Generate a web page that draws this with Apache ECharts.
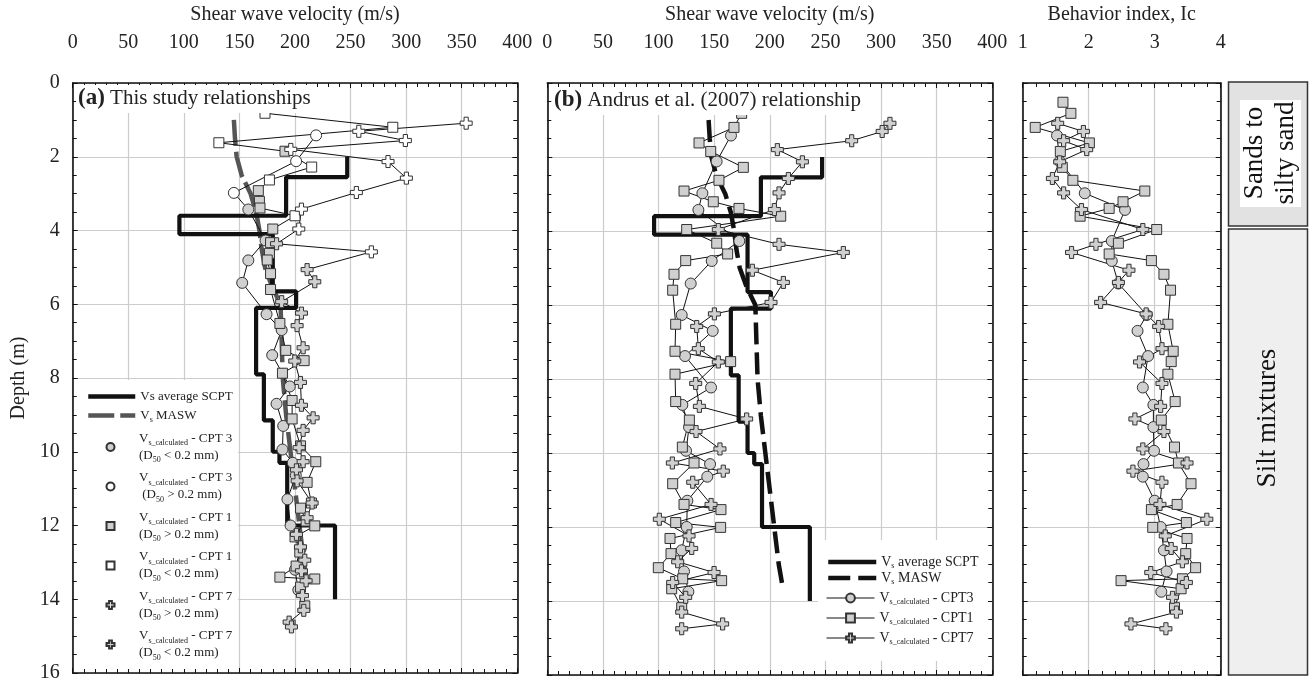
<!DOCTYPE html>
<html>
<head>
<meta charset="utf-8">
<script src="https://cdn.jsdelivr.net/npm/echarts@6/dist/echarts.min.js"></script>
<style>
  html, body { margin: 0; padding: 0; background: #fff; }
  #chart { width: 1309px; height: 683px; }
</style>
</head>
<body>
<div id="chart"></div>
<script>
// ---------------- DATA ----------------
const vsTickLabels = [0, 50, 100, 150, 200, 250, 300, 350, 400];
const icTickLabels = [1, 2, 3, 4];
const depthTickLabels = [0, 2, 4, 6, 8, 10, 12, 14, 16];

// SCPT average Vs layers
const scptTop    = [2.0, 2.55, 3.6, 4.1, 5.65, 6.1, 7.9, 9.15, 10.0, 10.3, 12.0];
const scptBottom = [2.55, 3.6, 4.1, 5.65, 6.1, 7.9, 9.15, 10.0, 10.3, 12.0, 14.0];
const scptVs     = [247, 192, 96, 180, 201, 165, 172, 180, 186, 193, 236];

// MASW profile
const maswDepth = [1.0, 1.5, 2.0, 2.5, 3.0, 3.5, 4.0, 4.5, 5.0, 5.5, 6.0, 7.0, 8.0, 9.0, 10.0, 11.0, 12.0, 13.0, 13.7];
const maswVs    = [145, 146, 147.5, 152, 160, 165, 168, 170, 173, 179, 187, 188, 189, 192, 196, 200, 204, 208, 212];

// CPT 3
const cpt3Depth  = [1.42, 2.12, 2.98, 3.43, 4.27, 4.81, 5.42, 6.27, 6.7, 7.38, 8.23, 8.7, 9.3, 9.94, 10.3, 10.64, 11.29, 12.0, 12.63, 13.2, 13.75];
const cpt3VsThis = [219, 201, 145, 158, 173.5, 158, 152.5, 174.4, 188, 179.5, 195.3, 183.4, 189.4, 188.7, 198, 200.7, 193.2, 196, 205, 200, 203];
const cpt3VsAndrus = [165.1, 152.2, 139.4, 135.8, 172.6, 147.8, 128.9, 120.8, 148.7, 123.8, 147.2, 121.4, 127.4, 124.7, 146.3, 143.8, 125.9, 125.3, 120.8, 122.9, 126.8];
const cpt3Ic     = [1.52, 1.56, 1.94, 2.55, 2.35, 2.35, 2.45, 2.88, 2.74, 2.9, 2.82, 2.98, 2.98, 2.99, 2.83, 2.82, 3.0, 3.09, 3.14, 3.18, 3.1];
const cpt3Coarse = [1, 1, 1, 0, 0, 0, 0, 0, 0, 0, 0, 0, 0, 0, 0, 0, 0, 0, 0, 0, 0]; // 1: D50 > 0.2 mm

// CPT 1
const cpt1Depth  = [0.52, 0.82, 1.2, 1.62, 1.85, 2.28, 2.63, 2.92, 3.21, 3.39, 3.6, 3.96, 4.33, 4.62, 4.8, 5.17, 5.6, 6.52, 7.25, 7.53, 7.87, 8.61, 9.11, 9.84, 10.27, 10.83, 11.39, 11.53, 11.88, 12.01, 12.31, 12.72, 13.1, 13.4, 13.45, 13.67, 14.18];
const cpt1VsThis = [165, 173, 288, 131.5, 191, 215, 177, 167, 168, 168.5, 200, 180, 178, 177, 175, 178, 178, 186.4, 191.7, 208.2, 188.7, 197.4, 197.4, 205, 218.7, 210.9, 214.8, 205, 210, 217.8, 200, 204.3, 201, 186.4, 217.8, 205, 208.8];
const cpt1VsAndrus = [170, 174.7, 167.8, 136.4, 146.9, 176.2, 154.3, 122.9, 149.2, 172.3, 209.8, 125.3, 152.3, 162.1, 124.4, 113.9, 112.7, 115.4, 114.8, 164.8, 114.8, 115.4, 127.7, 121.4, 131.9, 112.7, 122.9, 156.1, 115.4, 155.8, 110.3, 111.2, 99.8, 121.7, 156.7, 111.8, 120.8];
const cpt1Ic     = [1.61, 1.73, 1.19, 2.01, 1.57, 1.6, 1.76, 2.85, 2.52, 2.31, 1.87, 3.03, 2.45, 2.31, 2.95, 3.14, 3.24, 3.2, 3.28, 3.25, 3.2, 3.31, 3.1, 3.3, 3.36, 3.55, 3.34, 2.95, 3.48, 2.97, 3.49, 3.47, 3.62, 3.42, 2.49, 3.4, 3.3];
const cpt1Coarse = [0, 0, 0, 0, 1, 0, 0, 1, 1, 1, 0, 1, 1, 1, 1, 1, 1, 1, 1, 1, 1, 1, 1, 1, 1, 1, 1, 1, 1, 1, 1, 1, 1, 1, 1, 1, 1];

// CPT 7
const cpt7Depth  = [1.09, 1.31, 1.56, 1.8, 2.13, 2.58, 2.97, 3.42, 3.96, 4.36, 4.58, 5.06, 5.39, 5.93, 6.24, 6.58, 7.18, 7.54, 8.12, 8.74, 9.08, 9.42, 9.89, 10.27, 10.49, 10.79, 11.39, 11.79, 12.24, 12.58, 12.94, 13.23, 13.5, 13.9, 14.3, 14.62, 14.75];
const cpt7VsThis = [354, 257.4, 299.3, 196.2, 283.7, 300.2, 255.2, 205.8, 203.4, 183.4, 268.7, 210.9, 217.8, 188, 205.8, 201.9, 207.3, 199.8, 204.9, 205.8, 216.3, 207.3, 203.7, 207.3, 201.3, 201.9, 215.4, 210.9, 201.3, 204.9, 208.8, 205.8, 210, 206.7, 207.9, 194.7, 196.8];
const cpt7VsAndrus = [308, 301, 273.6, 206.8, 229.3, 216.7, 208.3, 204.1, 153.7, 208.3, 266.1, 184.3, 212.2, 201.1, 150.2, 134.3, 135.8, 153.7, 133.4, 136.7, 179.2, 133.7, 155.2, 112.4, 158.2, 130.7, 147.2, 100.7, 127.4, 129.8, 117.2, 149.9, 112.7, 124.4, 120.8, 157.6, 120.8];
const cpt7Ic     = [1.53, 1.92, 1.62, 1.97, 1.56, 1.45, 1.62, 1.89, 2.82, 2.11, 1.74, 2.61, 2.45, 2.18, 2.87, 3.06, 3.11, 2.77, 3.11, 3.09, 2.7, 3.14, 2.82, 3.49, 2.67, 3.11, 3.08, 3.79, 3.16, 3.25, 3.42, 2.94, 3.48, 3.27, 3.33, 2.64, 3.17];
const cpt7Coarse = [1, 1, 1, 1, 1, 1, 1, 1, 1, 0, 1, 0, 0, 0, 0, 0, 0, 0, 0, 0, 0, 0, 0, 0, 0, 0, 0, 0, 0, 0, 0, 0, 0, 0, 0, 0, 0];

// ---------------- HELPERS ----------------
const FONT = '"Liberation Serif", "Times New Roman", serif';
const GRAY = '#d0d0d0';
const EDGE = '#333333';
const PLUS = 'path://M6.5,0H13.5V6.5H20V13.5H13.5V20H6.5V13.5H0V6.5H6.5Z';
const SQUARE = 'path://M0,0H10V10H0Z';

function pairs(xs, ys) { return ys.map((y, i) => [xs[i], y]); }
function subset(xs, ys, flags, want) {
  const out = [];
  ys.forEach((y, i) => { if (flags[i] === want) out.push([xs[i], y]); });
  return out;
}
const scptData = [];
scptVs.forEach((v, i) => { scptData.push([v, scptTop[i]]); scptData.push([v, scptBottom[i]]); });
const maswData = pairs(maswVs, maswDepth);

// grid geometry
const grids = [
  { left: 72.7, top: 82, width: 444.6, height: 593 },
  { left: 547.3, top: 82, width: 445, height: 593 },
  { left: 1022.7, top: 82, width: 198, height: 593 }
];

const axisLineStyle = { color: '#111', width: 1.6 };
const tickStyle = { color: '#111', width: 1 };

function topX(gi, min, max, interval, name) {
  return {
    type: 'value', gridIndex: gi, position: 'top', min, max, interval,
    name, nameLocation: 'middle', nameGap: 58,
    nameTextStyle: { fontFamily: FONT, fontSize: 20, color: '#222' },
    axisLine: { show: true, onZero: false, lineStyle: axisLineStyle },
    axisTick: { show: true, inside: true, length: 5, lineStyle: tickStyle },
    minorTick: { show: true, splitNumber: 5, length: 4, lineStyle: tickStyle },
    axisLabel: { show: true, margin: 30, fontFamily: FONT, fontSize: 20, color: '#222' },
    splitLine: { show: true, lineStyle: { color: '#cccccc', width: 1.2 } }
  };
}
function bottomX(gi, min, max, interval) {
  return {
    type: 'value', gridIndex: gi, position: 'bottom', min, max, interval,
    axisLine: { show: true, onZero: false, lineStyle: axisLineStyle },
    axisTick: { show: true, inside: true, length: 5, lineStyle: tickStyle },
    minorTick: { show: true, splitNumber: 5, length: 4, lineStyle: tickStyle },
    axisLabel: { show: false },
    splitLine: { show: false }
  };
}
function leftY(gi, withLabels) {
  const ax = {
    type: 'value', gridIndex: gi, position: 'left', inverse: true, min: 0, max: 16, interval: 2,
    axisLine: { show: true, onZero: false, lineStyle: axisLineStyle },
    axisTick: { show: true, inside: true, length: 5, lineStyle: tickStyle },
    minorTick: { show: true, splitNumber: 4, length: 4, lineStyle: tickStyle },
    axisLabel: { show: withLabels, margin: 13, fontFamily: FONT, fontSize: 20, color: '#222' },
    splitLine: { show: true, lineStyle: { color: '#cccccc', width: 1.2 } }
  };
  if (withLabels) {
    ax.name = 'Depth (m)';
    ax.nameLocation = 'middle';
    ax.nameGap = 44;
    ax.nameTextStyle = { fontFamily: FONT, fontSize: 20, color: '#222' };
  }
  return ax;
}
function rightY(gi) {
  return {
    type: 'value', gridIndex: gi, position: 'right', inverse: true, min: 0, max: 16, interval: 2,
    axisLine: { show: true, onZero: false, lineStyle: axisLineStyle },
    axisTick: { show: true, inside: true, length: 5, lineStyle: tickStyle },
    minorTick: { show: true, splitNumber: 4, length: 4, lineStyle: tickStyle },
    axisLabel: { show: false },
    splitLine: { show: false }
  };
}

// axis indices: x top: 0,2,4 ; x bottom: 1,3,5 ; y left: 0,2,4 ; y right: 1,3,5
const xAxes = [
  topX(0, 0, 400, 50, 'Shear wave velocity (m/s)'), bottomX(0, 0, 400, 50),
  topX(1, 0, 400, 50, 'Shear wave velocity (m/s)'), bottomX(1, 0, 400, 50),
  topX(2, 1, 4, 1, 'Behavior index, Ic'), bottomX(2, 1, 4, 1)
];
const yAxes = [leftY(0, true), rightY(0), leftY(1, false), rightY(1), leftY(2, false), rightY(2)];

function connLine(name, data, xi, yi) {
  return {
    name, type: 'line', xAxisIndex: xi, yAxisIndex: yi, data, symbol: 'none',
    lineStyle: { color: '#111', width: 1 }, z: 4, silent: true
  };
}
function scat(name, data, symbol, size, fill, xi, yi) {
  return {
    name, type: 'scatter', xAxisIndex: xi, yAxisIndex: yi, data, symbol, symbolSize: size,
    itemStyle: { color: fill, borderColor: EDGE, borderWidth: 1, opacity: 1 }, z: 5
  };
}
function cptLine(name, data, symbol, size, xi, yi) {
  return {
    name, type: 'line', xAxisIndex: xi, yAxisIndex: yi, data, symbol, symbolSize: size,
    showAllSymbol: true,
    lineStyle: { color: '#111', width: 1 },
    itemStyle: { color: GRAY, borderColor: EDGE, borderWidth: 1 }, z: 4
  };
}

const series = [
  // ---- panel (a)
  { name: 'a_masw', type: 'line', xAxisIndex: 0, yAxisIndex: 0, data: maswData, symbol: 'none',
    lineStyle: { color: '#555', width: 4.5, type: [26, 6] }, itemStyle: { color: '#555' }, z: 2 },
  { name: 'a_scpt', type: 'line', xAxisIndex: 0, yAxisIndex: 0, data: scptData, symbol: 'none',
    lineStyle: { color: '#111', width: 4.2 }, itemStyle: { color: '#111' }, z: 3 },
  connLine('a_cpt3_line', pairs(cpt3VsThis, cpt3Depth), 0, 0),
  connLine('a_cpt1_line', pairs(cpt1VsThis, cpt1Depth), 0, 0),
  connLine('a_cpt7_line', pairs(cpt7VsThis, cpt7Depth), 0, 0),
  scat('a_cpt3_fine', subset(cpt3VsThis, cpt3Depth, cpt3Coarse, 0), 'circle', 11, GRAY, 0, 0),
  scat('a_cpt3_coarse', subset(cpt3VsThis, cpt3Depth, cpt3Coarse, 1), 'circle', 11, '#fff', 0, 0),
  scat('a_cpt1_coarse', subset(cpt1VsThis, cpt1Depth, cpt1Coarse, 1), SQUARE, 10, GRAY, 0, 0),
  scat('a_cpt1_fine', subset(cpt1VsThis, cpt1Depth, cpt1Coarse, 0), SQUARE, 10, '#fff', 0, 0),
  scat('a_cpt7_coarse', subset(cpt7VsThis, cpt7Depth, cpt7Coarse, 1), PLUS, 12, '#fff', 0, 0),
  scat('a_cpt7_fine', subset(cpt7VsThis, cpt7Depth, cpt7Coarse, 0), PLUS, 12, GRAY, 0, 0),
  // ---- panel (b)
  { name: 'b_masw', type: 'line', xAxisIndex: 2, yAxisIndex: 2, data: maswData, symbol: 'none',
    lineStyle: { color: '#111', width: 4.5, type: [22, 8] }, itemStyle: { color: '#111' }, z: 2 },
  { name: 'b_scpt', type: 'line', xAxisIndex: 2, yAxisIndex: 2, data: scptData, symbol: 'none',
    lineStyle: { color: '#111', width: 4.2 }, itemStyle: { color: '#111' }, z: 3 },
  cptLine('b_cpt3', pairs(cpt3VsAndrus, cpt3Depth), 'circle', 11, 2, 2),
  cptLine('b_cpt1', pairs(cpt1VsAndrus, cpt1Depth), SQUARE, 10, 2, 2),
  cptLine('b_cpt7', pairs(cpt7VsAndrus, cpt7Depth), PLUS, 12, 2, 2),
  // ---- panel (c)
  cptLine('c_cpt3', pairs(cpt3Ic, cpt3Depth), 'circle', 11, 4, 4),
  cptLine('c_cpt1', pairs(cpt1Ic, cpt1Depth), SQUARE, 10, 4, 4),
  cptLine('c_cpt7', pairs(cpt7Ic, cpt7Depth), PLUS, 12, 4, 4)
];

const legendText = {
  a_scpt: 'Vs average SCPT',
  a_masw: 'V{sub|s} MASW',
  a_cpt3_fine: 'V{sub|s_calculated} - CPT 3\n(D{sub|50} < 0.2 mm)',
  a_cpt3_coarse: 'V{sub|s_calculated} - CPT 3\n (D{sub|50} > 0.2 mm)',
  a_cpt1_coarse: 'V{sub|s_calculated} - CPT 1\n(D{sub|50} > 0.2 mm)',
  a_cpt1_fine: 'V{sub|s_calculated} - CPT 1\n(D{sub|50} < 0.2 mm)',
  a_cpt7_coarse: 'V{sub|s_calculated} - CPT 7\n(D{sub|50} > 0.2 mm)',
  a_cpt7_fine: 'V{sub|s_calculated} - CPT 7\n(D{sub|50} < 0.2 mm)',
  b_scpt: 'V{sub|s} average SCPT',
  b_masw: 'V{sub|s} MASW',
  b_cpt3: 'V{sub|s_calculated} - CPT3',
  b_cpt1: 'V{sub|s_calculated} - CPT1',
  b_cpt7: 'V{sub|s_calculated} - CPT7'
};
function legendTextStyle(fs, lh) {
  return {
    fontFamily: FONT, fontSize: fs, lineHeight: lh, color: '#222',
    rich: { sub: { fontFamily: FONT, fontSize: 8, lineHeight: 11, verticalAlign: 'bottom', color: '#222' } }
  };
}
const legendBase = {
  orient: 'vertical', selectedMode: false, padding: 0,
  formatter: n => legendText[n] || n
};
const noSymbol = { opacity: 0, borderWidth: 0 };

const option = {
  animation: false,
  backgroundColor: '#fff',
  grid: grids,
  xAxis: xAxes,
  yAxis: yAxes,
  title: [
    { text: '{b|(a)} This study relationships', left: 76, top: 85, padding: [2, 4, 3, 2], backgroundColor: '#fff',
      textStyle: { fontFamily: FONT, fontSize: 21, fontWeight: 'normal', color: '#222',
        rich: { b: { fontFamily: FONT, fontSize: 23, fontWeight: 'bold', color: '#222' } } } },
    { text: '{b|(b)} Andrus et al. (2007) relationship', left: 552, top: 87, padding: [2, 4, 3, 2], backgroundColor: '#fff',
      textStyle: { fontFamily: FONT, fontSize: 21, fontWeight: 'normal', color: '#222',
        rich: { b: { fontFamily: FONT, fontSize: 23, fontWeight: 'bold', color: '#222' } } } }
  ],
  legend: [
    Object.assign({}, legendBase, {
      left: 86, top: 388, itemWidth: 47, itemHeight: 8, itemGap: 2,
      data: [{ name: 'a_scpt', itemStyle: noSymbol }, { name: 'a_masw', itemStyle: noSymbol }],
      lineStyle: { width: 4.5 },
      textStyle: legendTextStyle(13, 17)
    }),
    Object.assign({}, legendBase, {
      // icons are centred in a 47px slot; the legend box starts at the icon's left edge
      left: 105.5, top: 430, itemWidth: 47, itemHeight: 8, itemGap: 5.5,
      data: ['a_cpt3_fine', 'a_cpt3_coarse', 'a_cpt1_coarse', 'a_cpt1_fine', 'a_cpt7_coarse', 'a_cpt7_fine'],
      textStyle: legendTextStyle(13, 17)
    }),
    Object.assign({}, legendBase, {
      left: 826, top: 554, itemWidth: 48, itemHeight: 8, itemGap: 0,
      data: [{ name: 'b_scpt', itemStyle: noSymbol }, { name: 'b_masw', itemStyle: noSymbol }],
      lineStyle: { width: 4.5 },
      textStyle: legendTextStyle(14, 16)
    }),
    Object.assign({}, legendBase, {
      left: 826, top: 590, itemWidth: 48, itemHeight: 11, itemGap: 4,
      data: ['b_cpt3', 'b_cpt1', 'b_cpt7'],
      lineStyle: { width: 1 },
      textStyle: legendTextStyle(14, 16)
    })
  ],
  graphic: { elements: [
    { type: 'rect', z: 1, silent: true, shape: { x: 78, y: 380, width: 160, height: 289 }, style: { fill: '#fff' } },
    { type: 'rect', z: 1, silent: true, shape: { x: 818, y: 540, width: 170, height: 121 }, style: { fill: '#fff' } },
    { type: 'rect', z: 1, silent: true, shape: { x: 1228.5, y: 82, width: 79, height: 144 }, style: { fill: '#e2e2e2', stroke: '#333', lineWidth: 1.5 } },
    { type: 'rect', z: 2, silent: true, shape: { x: 1240, y: 100, width: 61, height: 107 }, style: { fill: '#fff' } },
    { type: 'text', z: 3, silent: true, x: 1270, y: 153, rotation: Math.PI / 2,
      style: { text: 'Sands to\nsilty sand', fontFamily: FONT, fontSize: 27, lineHeight: 31, fill: '#111', align: 'center', verticalAlign: 'middle' } },
    { type: 'rect', z: 1, silent: true, shape: { x: 1228.5, y: 229, width: 79, height: 446 }, style: { fill: '#efefef', stroke: '#333', lineWidth: 1.5 } },
    { type: 'text', z: 3, silent: true, x: 1268, y: 418, rotation: Math.PI / 2,
      style: { text: 'Silt mixtures', fontFamily: FONT, fontSize: 27, fill: '#111', align: 'center', verticalAlign: 'middle' } }
  ] },
  series
};

const chart = echarts.init(document.getElementById('chart'), null, { renderer: 'canvas' });
chart.setOption(option);
</script>
</body>
</html>
